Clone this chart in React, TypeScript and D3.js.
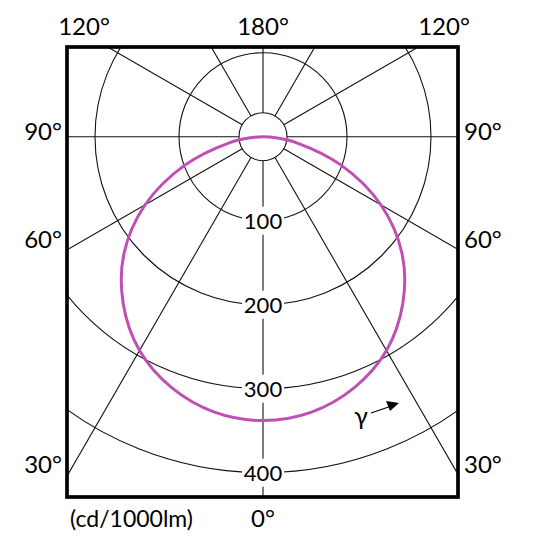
import React from 'react';
import * as d3 from 'd3';

// intensity readings (cd/1000lm) at gamma angles, symmetric around the vertical
const gammaAngles = [0, 10, 20, 30, 40, 50, 60, 70, 80, 85, 90];
const intensities = [338, 333, 318, 294, 259, 216, 162, 99, 40, 17, 0];

const ringValues = [100, 200, 300, 400];
const spokeAngles = [0, 30, 60, 90, 120, 150, 180, 210, 240, 270, 300, 330];

const topLabels = ['120°', '180°', '120°'];
const sideLabels = ['90°', '60°', '30°'];
const sideAngles = [90, 60, 30];
const unitLabel = '(cd/1000lm)';
const bottomLabel = '0°';

const width = 534;
const height = 549;
const frame = { left: 67, top: 47, right: 458, bottom: 497 };
const cx = 263;
const cy = 136.7;
const hubRadius = 24;
const font = "Lato, 'Open Sans', sans-serif";

const App = () => {
  const r = d3.scaleLinear().domain([0, 400]).range([0, 336]);

  // angle measured from straight down
  const pt = (deg: number, rad: number): [number, number] => {
    const a = (deg * Math.PI) / 180;
    return [cx + rad * Math.sin(a), cy + rad * Math.cos(a)];
  };

  // mirror the half curve: start at the top (90°), round the bottom, back up the right side
  const pts: [number, number][] = [];
  for (let i = gammaAngles.length - 1; i >= 0; i--) pts.push([-gammaAngles[i], intensities[i]]);
  for (let i = 1; i < gammaAngles.length - 1; i++) pts.push([gammaAngles[i], intensities[i]]);

  const curve = d3.line<[number, number]>()
    .x(d => pt(d[0], r(d[1]))[0])
    .y(d => pt(d[0], r(d[1]))[1])
    .curve(d3.curveCatmullRomClosed.alpha(0.5))(pts);

  const farR = 700;

  return (
    <svg width={width} height={height} style={{ position: 'absolute', left: 0, top: 0, background: '#fff' }}>
      <defs>
        <clipPath id="plot">
          <rect x={frame.left} y={frame.top} width={frame.right - frame.left} height={frame.bottom - frame.top} />
        </clipPath>
      </defs>
      <g clipPath="url(#plot)">
        {ringValues.map(v => (
          <circle key={v} cx={cx} cy={cy} r={r(v)} fill="none" stroke="#111" strokeWidth={1.1} />
        ))}
        {spokeAngles.map(a => {
          const [x1, y1] = pt(a, hubRadius);
          const [x2, y2] = pt(a, farR);
          return <line key={a} x1={x1} y1={y1} x2={x2} y2={y2} stroke="#111" strokeWidth={1.1} />;
        })}
        <circle cx={cx} cy={cy} r={hubRadius} fill="none" stroke="#111" strokeWidth={1.1} />
        {ringValues.map(v => (
          <rect key={'bg' + v} x={cx - 21} y={cy + r(v) - 14} width={42} height={28} fill="#fff" />
        ))}
        <path d={curve || ''} fill="none" stroke="#c04fb5" strokeWidth={3} />
        {ringValues.map(v => (
          <text key={'t' + v} x={cx} y={cy + r(v)} dy="0.36em" textAnchor="middle"
            fontFamily={font} fontSize={22} fill="#000">{v}</text>
        ))}
        <text x={361} y={425} textAnchor="middle" fontFamily={font} fontSize={25} fill="#000">γ</text>
        <line x1={371} y1={413} x2={390} y2={406.5} stroke="#000" strokeWidth={1.2} />
        <path d="M399,403 L386,401 L390,411 Z" fill="#000" />
      </g>
      <rect x={frame.left} y={frame.top} width={frame.right - frame.left} height={frame.bottom - frame.top}
        fill="none" stroke="#000" strokeWidth={3.7} />

      {topLabels.map((t, i) => (
        <text key={'top' + i} x={[84, 263, 444][i]} y={35} textAnchor="middle"
          fontFamily={font} fontSize={24} fill="#000">{t}</text>
      ))}
      {sideLabels.map((t, i) => {
        const yy = [140, 248, 473][i];
        return (
          <g key={'side' + sideAngles[i]}>
            <text x={62} y={yy} textAnchor="end" fontFamily={font} fontSize={24} fill="#000">{t}</text>
            <text x={464} y={yy} textAnchor="start" fontFamily={font} fontSize={24} fill="#000">{t}</text>
          </g>
        );
      })}
      <text x={70} y={527} fontFamily={font} fontSize={23} fill="#000">{unitLabel}</text>
      <text x={263} y={527} textAnchor="middle" fontFamily={font} fontSize={24} fill="#000">{bottomLabel}</text>
    </svg>
  );
};

export default App;
